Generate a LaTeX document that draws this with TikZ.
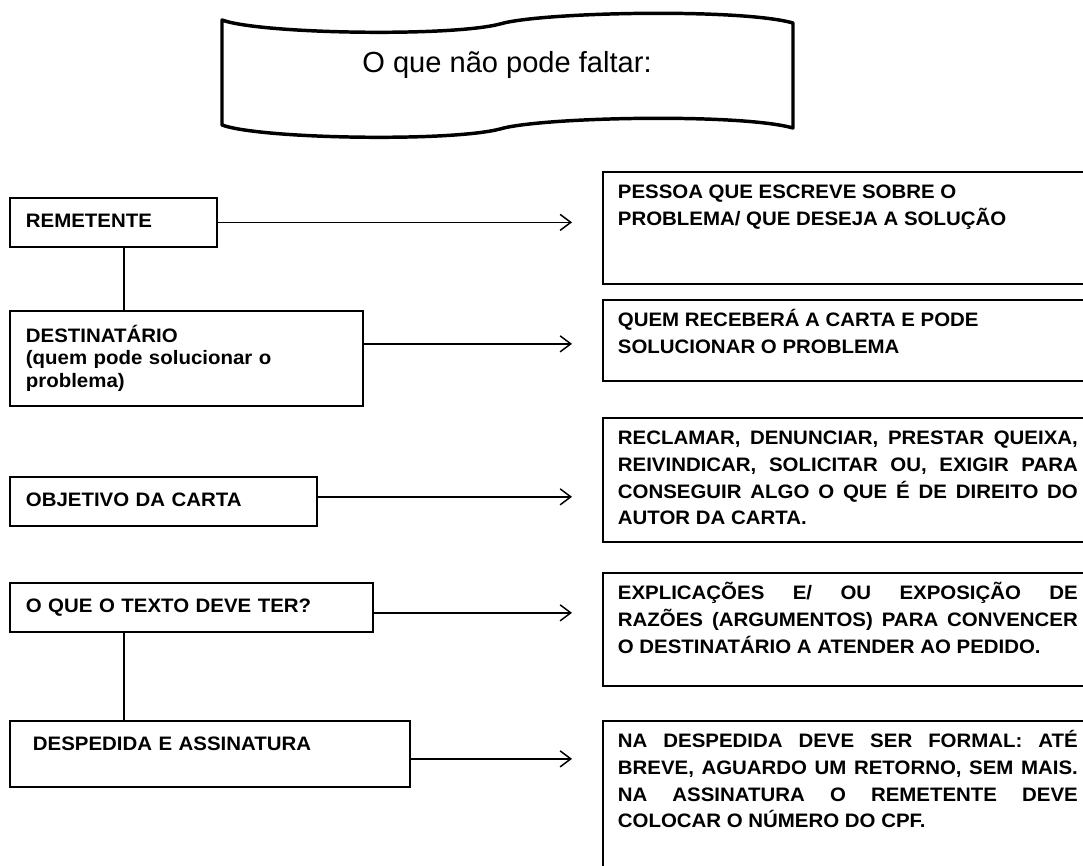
\documentclass[tikz,border=0pt]{standalone}
\usepackage{fontspec}
\setmainfont{Liberation Sans}
\newfontfamily\cartafont{Liberation Sans}[FakeStretch=1.05]
\usetikzlibrary{arrows.meta}
\hyphenpenalty=10000
\exhyphenpenalty=10000
\hbadness=10000
\newcommand{\corpo}{\cartafont\bfseries\fontsize{14.6pt}{20pt}\selectfont}
\newcommand{\caixa}[2]{\parbox[c][#1][t]{345pt}{\rule{0pt}{20.25pt}#2}}

\begin{document}
\begin{tikzpicture}[x=0.75pt,y=-0.75pt,
  leftbox/.style={draw,line width=1.3pt,anchor=north west,inner xsep=12pt,inner ysep=0pt,
    align=left,font=\corpo},
  oneline/.style={text height=22.5pt,text depth=14.25pt},
  rightbox/.style={draw,line width=1.3pt,anchor=north west,inner xsep=11.25pt,inner ysep=0pt,
    font=\corpo},
  link/.style={line width=1.1pt,-{Straight Barb[length=8pt,width=12pt]},shorten >=22.5pt},
  joint/.style={line width=1.1pt}]
  \useasboundingbox (0,0) rectangle (1083,865);

  % faixa do titulo
  \draw[line width=2.6pt,line join=round]
    (222,20) .. controls (260,34) and (450,37) .. (500,24)
    .. controls (540,12) and (740,8) .. (793,23) -- (793,128)
    .. controls (740,113) and (540,117) .. (500,129)
    .. controls (450,142) and (260,139) .. (222,125) -- cycle;
  \node[anchor=base,font=\fontsize{21.8pt}{26pt}\selectfont] (titulo) at (507,72)
    {O que não pode faltar:};

  % caixas da esquerda
  \node[leftbox,oneline,text width=131.25pt] (remet) at (9,197) {REMETENTE};
  \node[leftbox,text width=240.75pt,minimum height=71.25pt,
        font={\corpo\fontsize{14.6pt}{17pt}\selectfont}] (dest) at (9,310)
    {DESTINATÁRIO\\(quem pode solucionar o\\problema)};
  \node[leftbox,oneline,text width=206.25pt] (objet) at (9,476) {OBJETIVO DA CARTA};
  \node[leftbox,oneline,text width=248.25pt] (texto) at (9,582) {O QUE O TEXTO DEVE TER?};
  \node[leftbox,text height=22.5pt,text depth=27pt,inner xsep=17.25pt,text width=265.5pt]
    (desped) at (9,720) {DESPEDIDA E ASSINATURA};

  % caixas da direita
  \node[rightbox] (pessoa) at (602,171)
    {\caixa{84pt}{PESSOA QUE ESCREVE SOBRE O\\PROBLEMA/ QUE DESEJA A SOLUÇÃO}};
  \node[rightbox] (quem) at (602,299)
    {\caixa{60.75pt}{QUEM RECEBERÁ A CARTA E PODE\\SOLUCIONAR O PROBLEMA}};
  \node[rightbox] (reclamar) at (602,417)
    {\caixa{93pt}{RECLAMAR, DENUNCIAR, PRESTAR QUEIXA,\linebreak
     REIVINDICAR, SOLICITAR OU, EXIGIR PARA\linebreak
     CONSEGUIR ALGO O QUE É DE DIREITO DO\linebreak AUTOR DA CARTA.}};
  \node[rightbox] (explic) at (602,572)
    {\caixa{84.75pt}{EXPLICAÇÕES E/ OU EXPOSIÇÃO DE\linebreak
     RAZÕES (ARGUMENTOS) PARA CONVENCER\linebreak
     O DESTINATÁRIO A ATENDER AO PEDIDO.}};
  \node[rightbox] (assin) at (602,720)
    {\caixa{120pt}{NA DESPEDIDA DEVE SER FORMAL: ATÉ\linebreak
     BREVE, AGUARDO UM RETORNO, SEM MAIS.\linebreak
     NA ASSINATURA O REMETENTE DEVE\linebreak COLOCAR O NÚMERO DO CPF.}};

  % ligacoes
  \draw[joint] ([xshift=86.25pt]remet.south west) -- ([xshift=86.25pt]remet.south west |- dest.north);
  \draw[joint] ([xshift=86.25pt]texto.south west) -- ([xshift=86.25pt]texto.south west |- desped.north);
  \draw[link] (remet) -- (remet -| pessoa.west);
  \draw[link] ([yshift=10.9pt]dest.east) -- ([yshift=10.9pt]dest.east -| quem.west);
  \draw[link] ([yshift=3.4pt]objet.east) -- ([yshift=3.4pt]objet.east -| reclamar.west);
  \draw[link] ([yshift=-4.1pt]texto.east) -- ([yshift=-4.1pt]texto.east -| explic.west);
  \draw[link] ([yshift=-3.75pt]desped.east) -- ([yshift=-3.75pt]desped.east -| assin.west);
\end{tikzpicture}
\end{document}
